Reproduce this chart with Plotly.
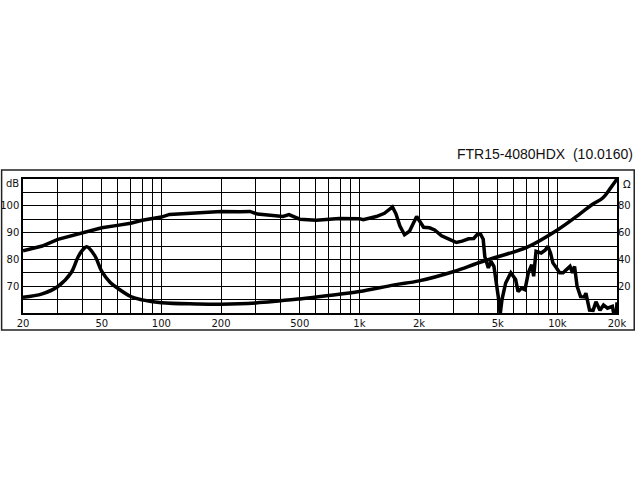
import plotly.graph_objects as go

# ---- data ----
spl_freq = [20, 25, 30, 35, 40, 50, 60, 70, 80, 90, 100, 110, 130, 150, 200, 250, 280, 306, 352,
            411, 441, 470, 500, 606, 731, 790, 1000, 1045, 1218, 1338, 1469, 1530, 1600, 1690,
            1790, 1946, 2110, 2260, 2400, 2600, 2870, 3090, 3300, 3560, 3780, 3960, 4100, 4220,
            4300, 4480, 4620, 4780, 5030, 5140, 5250, 5480, 5820, 6150, 6330, 6600, 6860, 7130,
            7420, 7590, 7800, 8280, 8670, 8950, 9230, 9490, 9760, 10270, 10680, 11120, 11580,
            11930, 12210, 12570, 13090, 13660, 13930, 14530, 15150, 15660, 16410, 17100, 17900,
            18950, 19400, 19800, 20000]
spl_db = [83.2, 85, 87.5, 88.8, 90, 91.8, 92.7, 93.5, 94.6, 95.2, 95.8, 96.8, 97.1, 97.3, 97.9,
          97.8, 97.9, 96.9, 96.6, 96.0, 96.7, 96.0, 95.0, 94.6, 95.0, 95.3, 95.2, 94.8, 96.0,
          97.2, 99.6, 97.0, 92.5, 89.2, 90.5, 96.0, 92.0, 91.8, 91.0, 88.8, 87.4, 86.3, 86.8,
          87.7, 87.8, 89.5, 89.3, 87.5, 81, 76.8, 79.3, 77.4, 66, 59.5, 65, 71.2, 75, 72.5, 68,
          69.3, 68.7, 75, 78, 73.7, 83, 82.4, 83.4, 84.9, 82.4, 78.7, 77.4, 75, 75, 76.2, 77.4,
          75, 77.4, 70, 66.1, 66, 67.4, 61.1, 61, 64.2, 61, 63, 61.8, 62.5, 58.5, 59, 64]

imp_freq = [20, 25, 30, 35, 38, 40, 42, 46, 50, 55, 60, 70, 80, 100, 150, 200, 300, 500, 700,
            1000, 1500, 2000, 3000, 4000, 5000, 7000, 10000, 13000, 15000, 17000, 18500, 20000]
imp_ohm = [11.8, 14.3, 19.8, 30, 42, 47, 49.4, 43, 31, 23, 18.6, 12.3, 9.8, 7.7, 6.8, 6.6, 7.5,
           10.5, 13, 16, 21, 24, 31, 37.5, 42, 49, 62, 74, 81, 86, 93, 100]

x_grid = [20, 30, 40, 50, 60, 70, 80, 90, 100, 200, 300, 400, 500, 600, 700, 800, 900,
          1000, 2000, 3000, 4000, 5000, 6000, 7000, 8000, 9000, 10000, 20000]
x_labels = {20: "20", 50: "50", 100: "100", 200: "200", 500: "500", 1000: "1k",
            2000: "2k", 5000: "5k", 10000: "10k", 20000: "20k"}
db_grid = [60, 65, 70, 75, 80, 85, 90, 95, 100, 105, 110]
db_labels = {70: "70", 80: "80", 90: "90", 100: "100"}
ohm_grid = [20, 40, 60, 80]
title_text = "FTR15-4080HDX \u00a0(10.0160)"

tick_font = dict(family="DejaVu Sans", size=10, color="#111")

fig = go.Figure()
fig.add_trace(go.Scatter(x=spl_freq, y=spl_db, mode="lines",
                         line=dict(color="black", width=3.5), yaxis="y", showlegend=False))
fig.add_trace(go.Scatter(x=imp_freq, y=imp_ohm, mode="lines", line_shape="spline",
                         line=dict(color="black", width=3.5), yaxis="y2", showlegend=False))

fig.update_layout(
    width=640, height=480,
    margin=dict(l=23, r=23, t=179, b=167, autoexpand=False),
    paper_bgcolor="white", plot_bgcolor="white",
    xaxis=dict(type="log", range=[1.30103, 4.30103], automargin=False,
               tickvals=x_grid, ticktext=[x_labels.get(v, "") for v in x_grid],
               showgrid=True, gridcolor="black", gridwidth=1.3,
               showline=True, linecolor="black", linewidth=1.5, mirror=True,
               ticks="", tickfont=tick_font, zeroline=False),
    yaxis=dict(range=[60, 110], tickvals=db_grid, automargin=False,
               ticktext=[db_labels.get(v, "") for v in db_grid],
               showgrid=True, gridcolor="black", gridwidth=1.3,
               showline=True, linecolor="black", linewidth=1.5, mirror=True,
               ticks="", tickfont=tick_font, zeroline=False, ticklabelstandoff=0),
    yaxis2=dict(range=[0, 100], overlaying="y", side="right", tickvals=ohm_grid,
                automargin=False,
                showgrid=False, ticks="", tickfont=tick_font, zeroline=False),
    shapes=[dict(type="rect", xref="paper", yref="paper", x0=-0.036, x1=1.029,
                 y0=-0.127, y1=1.067, line=dict(color="#222", width=1.5))],
    annotations=[
        dict(text=title_text, xref="paper", yref="paper", x=1.03, y=1.19,
             xanchor="right", yanchor="middle", showarrow=False,
             font=dict(family="Liberation Sans", size=14, color="#111")),
        dict(text="dB", xref="paper", yref="paper", x=-0.004, y=0.97,
             xanchor="right", yanchor="middle", showarrow=False, font=tick_font),
        dict(text="\u03a9", xref="paper", yref="paper", x=1.007, y=0.96,
             xanchor="left", yanchor="middle", showarrow=False, font=tick_font),
    ],
)

fig.write_html("out.html", config={"displayModeBar": False},
               post_script="document.body.style.margin='0';document.body.style.overflow='hidden';")
